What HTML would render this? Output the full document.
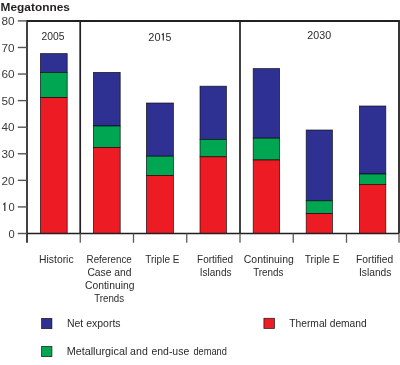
<!DOCTYPE html>
<html><head><meta charset="utf-8"><style>
html,body{margin:0;padding:0;background:#fff;}
svg{display:block;will-change:transform;}
text{font-family:"Liberation Sans",sans-serif;}
</style></head><body>
<svg width="400" height="365" viewBox="0 0 400 365">

<rect x="40.40" y="53.60" width="26.80" height="18.80" fill="#2e3192" stroke="rgba(8,8,8,0.8)" stroke-width="0.8"/>
<rect x="40.40" y="72.40" width="26.80" height="25.20" fill="#00a651" stroke="rgba(8,8,8,0.8)" stroke-width="0.8"/>
<rect x="40.40" y="97.60" width="26.80" height="135.90" fill="#ed1c24" stroke="rgba(8,8,8,0.8)" stroke-width="0.8"/>
<rect x="93.40" y="72.40" width="26.80" height="53.60" fill="#2e3192" stroke="rgba(8,8,8,0.8)" stroke-width="0.8"/>
<rect x="93.40" y="126.00" width="26.80" height="21.40" fill="#00a651" stroke="rgba(8,8,8,0.8)" stroke-width="0.8"/>
<rect x="93.40" y="147.40" width="26.80" height="86.10" fill="#ed1c24" stroke="rgba(8,8,8,0.8)" stroke-width="0.8"/>
<rect x="146.40" y="103.00" width="27.00" height="53.20" fill="#2e3192" stroke="rgba(8,8,8,0.8)" stroke-width="0.8"/>
<rect x="146.40" y="156.20" width="27.00" height="19.20" fill="#00a651" stroke="rgba(8,8,8,0.8)" stroke-width="0.8"/>
<rect x="146.40" y="175.40" width="27.00" height="58.10" fill="#ed1c24" stroke="rgba(8,8,8,0.8)" stroke-width="0.8"/>
<rect x="200.00" y="86.20" width="26.40" height="53.20" fill="#2e3192" stroke="rgba(8,8,8,0.8)" stroke-width="0.8"/>
<rect x="200.00" y="139.40" width="26.40" height="17.40" fill="#00a651" stroke="rgba(8,8,8,0.8)" stroke-width="0.8"/>
<rect x="200.00" y="156.80" width="26.40" height="76.70" fill="#ed1c24" stroke="rgba(8,8,8,0.8)" stroke-width="0.8"/>
<rect x="253.20" y="68.60" width="26.40" height="69.60" fill="#2e3192" stroke="rgba(8,8,8,0.8)" stroke-width="0.8"/>
<rect x="253.20" y="138.20" width="26.40" height="21.80" fill="#00a651" stroke="rgba(8,8,8,0.8)" stroke-width="0.8"/>
<rect x="253.20" y="160.00" width="26.40" height="73.50" fill="#ed1c24" stroke="rgba(8,8,8,0.8)" stroke-width="0.8"/>
<rect x="306.20" y="130.00" width="26.20" height="70.80" fill="#2e3192" stroke="rgba(8,8,8,0.8)" stroke-width="0.8"/>
<rect x="306.20" y="200.80" width="26.20" height="12.80" fill="#00a651" stroke="rgba(8,8,8,0.8)" stroke-width="0.8"/>
<rect x="306.20" y="213.60" width="26.20" height="19.90" fill="#ed1c24" stroke="rgba(8,8,8,0.8)" stroke-width="0.8"/>
<rect x="359.40" y="106.00" width="26.40" height="68.00" fill="#2e3192" stroke="rgba(8,8,8,0.8)" stroke-width="0.8"/>
<rect x="359.40" y="174.00" width="26.40" height="10.40" fill="#00a651" stroke="rgba(8,8,8,0.8)" stroke-width="0.8"/>
<rect x="359.40" y="184.40" width="26.40" height="49.10" fill="#ed1c24" stroke="rgba(8,8,8,0.8)" stroke-width="0.8"/>
<path d="M27 21 H399 V233.5" fill="none" stroke="#231f20" stroke-width="1.8"/>
<line x1="27" y1="20.1" x2="27" y2="242.8" stroke="#231f20" stroke-width="1.7"/>
<line x1="26.2" y1="233.5" x2="399" y2="233.5" stroke="#231f20" stroke-width="1.5"/>
<line x1="80.2" y1="21" x2="80.2" y2="233.5" stroke="#231f20" stroke-width="1.7"/>
<line x1="240" y1="21" x2="240" y2="233.5" stroke="#231f20" stroke-width="1.7"/>
<line x1="80.25" y1="233.5" x2="80.25" y2="242.8" stroke="#5a5a5a" stroke-width="1.3"/>
<line x1="133.50" y1="233.5" x2="133.50" y2="242.8" stroke="#5a5a5a" stroke-width="1.3"/>
<line x1="186.75" y1="233.5" x2="186.75" y2="242.8" stroke="#5a5a5a" stroke-width="1.3"/>
<line x1="240.00" y1="233.5" x2="240.00" y2="242.8" stroke="#5a5a5a" stroke-width="1.3"/>
<line x1="293.25" y1="233.5" x2="293.25" y2="242.8" stroke="#5a5a5a" stroke-width="1.3"/>
<line x1="346.50" y1="233.5" x2="346.50" y2="242.8" stroke="#5a5a5a" stroke-width="1.3"/>
<line x1="399.00" y1="233.5" x2="399.00" y2="242.8" stroke="#5a5a5a" stroke-width="1.3"/>
<line x1="17.8" y1="233.50" x2="27" y2="233.50" stroke="#555" stroke-width="1.4"/>
<text x="14.6" y="237.70" font-size="10.8" fill="#3a3a3a" text-anchor="end" textLength="6.2" lengthAdjust="spacingAndGlyphs">0</text>
<line x1="17.8" y1="206.93" x2="27" y2="206.93" stroke="#555" stroke-width="1.4"/>
<text x="14.6" y="211.12" font-size="10.8" fill="#3a3a3a" text-anchor="end" textLength="6.2" lengthAdjust="spacingAndGlyphs">0</text>
<path d="M3.3 204.43 L4.8 203.33 V210.93" fill="none" stroke="#3a3a3a" stroke-width="1.25"/>
<line x1="17.8" y1="180.35" x2="27" y2="180.35" stroke="#555" stroke-width="1.4"/>
<text x="14.6" y="184.55" font-size="10.8" fill="#3a3a3a" text-anchor="end" textLength="13.1" lengthAdjust="spacingAndGlyphs">20</text>
<line x1="17.8" y1="153.77" x2="27" y2="153.77" stroke="#555" stroke-width="1.4"/>
<text x="14.6" y="157.97" font-size="10.8" fill="#3a3a3a" text-anchor="end" textLength="13.1" lengthAdjust="spacingAndGlyphs">30</text>
<line x1="17.8" y1="127.20" x2="27" y2="127.20" stroke="#555" stroke-width="1.4"/>
<text x="14.6" y="131.40" font-size="10.8" fill="#3a3a3a" text-anchor="end" textLength="13.1" lengthAdjust="spacingAndGlyphs">40</text>
<line x1="17.8" y1="100.62" x2="27" y2="100.62" stroke="#555" stroke-width="1.4"/>
<text x="14.6" y="104.83" font-size="10.8" fill="#3a3a3a" text-anchor="end" textLength="13.1" lengthAdjust="spacingAndGlyphs">50</text>
<line x1="17.8" y1="74.05" x2="27" y2="74.05" stroke="#555" stroke-width="1.4"/>
<text x="14.6" y="78.25" font-size="10.8" fill="#3a3a3a" text-anchor="end" textLength="13.1" lengthAdjust="spacingAndGlyphs">60</text>
<line x1="17.8" y1="47.47" x2="27" y2="47.47" stroke="#555" stroke-width="1.4"/>
<text x="14.6" y="51.67" font-size="10.8" fill="#3a3a3a" text-anchor="end" textLength="13.1" lengthAdjust="spacingAndGlyphs">70</text>
<line x1="17.8" y1="20.90" x2="27" y2="20.90" stroke="#555" stroke-width="1.4"/>
<text x="14.6" y="25.10" font-size="10.8" fill="#3a3a3a" text-anchor="end" textLength="13.1" lengthAdjust="spacingAndGlyphs">80</text>
<text x="0.62" y="10.7" font-size="11.6" font-weight="bold" fill="#231f20" textLength="69.25" lengthAdjust="spacingAndGlyphs">Megatonnes</text>
<text x="41.50" y="40.3" font-size="10" font-weight="normal" fill="#2b2b2b" textLength="22.96" lengthAdjust="spacingAndGlyphs">2005</text>
<text x="148.36" y="40.5" font-size="10" font-weight="normal" fill="#2b2b2b" textLength="12.24" lengthAdjust="spacingAndGlyphs">20</text>
<text x="165.63" y="40.5" font-size="10" font-weight="normal" fill="#2b2b2b" textLength="5.91" lengthAdjust="spacingAndGlyphs">5</text>
<text x="307.34" y="38.6" font-size="10" font-weight="normal" fill="#2b2b2b" textLength="23.78" lengthAdjust="spacingAndGlyphs">2030</text>
<text x="39.06" y="263.0" font-size="11" font-weight="normal" fill="#2b2b2b" textLength="34.55" lengthAdjust="spacingAndGlyphs">Historic</text>
<text x="86.59" y="263.0" font-size="11" font-weight="normal" fill="#2b2b2b" textLength="45.14" lengthAdjust="spacingAndGlyphs">Reference</text>
<text x="87.40" y="276.1" font-size="11" font-weight="normal" fill="#2b2b2b" textLength="44.17" lengthAdjust="spacingAndGlyphs">Case and</text>
<text x="85.06" y="289.2" font-size="11" font-weight="normal" fill="#2b2b2b" textLength="49.38" lengthAdjust="spacingAndGlyphs">Continuing</text>
<text x="94.27" y="302.3" font-size="11" font-weight="normal" fill="#2b2b2b" textLength="29.83" lengthAdjust="spacingAndGlyphs">Trends</text>
<text x="145.27" y="263.0" font-size="11" font-weight="normal" fill="#2b2b2b" textLength="34.18" lengthAdjust="spacingAndGlyphs">Triple E</text>
<text x="197.05" y="263.0" font-size="11" font-weight="normal" fill="#2b2b2b" textLength="36.08" lengthAdjust="spacingAndGlyphs">Fortified</text>
<text x="199.70" y="276.2" font-size="11" font-weight="normal" fill="#2b2b2b" textLength="31.81" lengthAdjust="spacingAndGlyphs">Islands</text>
<text x="243.82" y="263.2" font-size="11" font-weight="normal" fill="#2b2b2b" textLength="49.97" lengthAdjust="spacingAndGlyphs">Continuing</text>
<text x="253.20" y="276.1" font-size="11" font-weight="normal" fill="#2b2b2b" textLength="30.29" lengthAdjust="spacingAndGlyphs">Trends</text>
<text x="304.77" y="263.0" font-size="11" font-weight="normal" fill="#2b2b2b" textLength="34.73" lengthAdjust="spacingAndGlyphs">Triple E</text>
<text x="356.08" y="263.0" font-size="11" font-weight="normal" fill="#2b2b2b" textLength="37.02" lengthAdjust="spacingAndGlyphs">Fortified</text>
<text x="358.91" y="276.2" font-size="11" font-weight="normal" fill="#2b2b2b" textLength="32.53" lengthAdjust="spacingAndGlyphs">Islands</text>
<text x="66.96" y="327.2" font-size="11" font-weight="normal" fill="#2b2b2b" textLength="53.64" lengthAdjust="spacingAndGlyphs">Net exports</text>
<text x="66.63" y="355.2" font-size="11" font-weight="normal" fill="#2b2b2b" textLength="60.72" lengthAdjust="spacingAndGlyphs">Metallurgical</text>
<text x="130.12" y="355.2" font-size="11" font-weight="normal" fill="#2b2b2b" textLength="17.66" lengthAdjust="spacingAndGlyphs">and</text>
<text x="151.39" y="355.2" font-size="11" font-weight="normal" fill="#2b2b2b" textLength="37.92" lengthAdjust="spacingAndGlyphs">end-use</text>
<text x="193.39" y="355.2" font-size="11" font-weight="normal" fill="#2b2b2b" textLength="33.55" lengthAdjust="spacingAndGlyphs">demand</text>
<text x="289.32" y="327.0" font-size="11" font-weight="normal" fill="#2b2b2b" textLength="77.38" lengthAdjust="spacingAndGlyphs">Thermal demand</text>
<path d="M161.9 34.8 L163.3 33.8 V40.6" fill="none" stroke="#2b2b2b" stroke-width="1.15"/>
<rect x="41.6" y="318.4" width="10.3" height="10.2" fill="#2e3192" stroke="rgba(8,8,8,0.8)" stroke-width="0.8"/>
<rect x="41.6" y="346.4" width="10.3" height="10.2" fill="#00a651" stroke="rgba(8,8,8,0.8)" stroke-width="0.8"/>
<rect x="263.9" y="318.3" width="10.5" height="10.1" fill="#ed1c24" stroke="rgba(8,8,8,0.8)" stroke-width="0.8"/>
</svg></body></html>
